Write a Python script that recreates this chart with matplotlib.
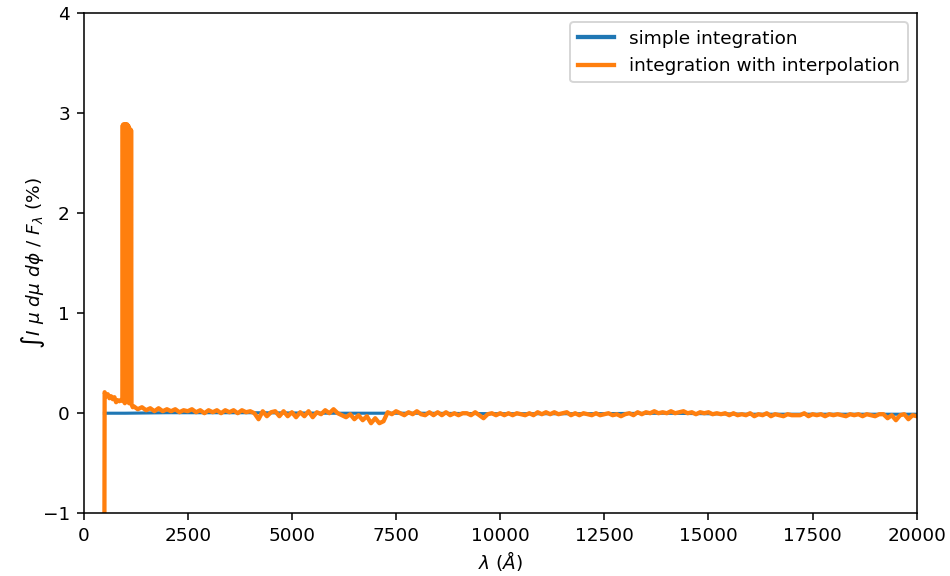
import matplotlib
matplotlib.use("Agg")
import matplotlib.pyplot as plt

plt.rcParams["font.size"] = 9.5

# simple integration (stays near zero)
wl_simple = [500, 1000, 2000, 4000, 6000, 8000, 10000, 12000, 14000, 16000, 18000, 20000]
frac_simple = [0.0, 0.0, 0.005, 0.005, 0.0, 0.0, -0.005, -0.005, 0.0, -0.01, -0.01, -0.01]

# integration with interpolation: blue edge + spike region
wl_start = [500, 505, 540, 580, 620, 660, 700, 740, 780, 820, 860, 900, 930]
frac_start = [-1.0, 0.21, 0.17, 0.19, 0.15, 0.17, 0.14, 0.16, 0.11, 0.13, 0.12, 0.13, 0.15]

wl_spike = [940, 950, 960, 970, 980, 990, 1000, 1010, 1020, 1030, 1040,
            1050, 1060, 1070, 1080, 1090, 1100, 1110, 1120, 1130, 1140, 1150,
            1160, 1180]
frac_spike = [2.88, 0.12, 2.89, 0.18, 2.88, 0.10, 2.89, 0.20, 2.88, 0.14, 2.89,
              0.12, 2.88, 0.18, 2.87, 0.10, 2.83, 0.15, 2.84, 0.10, 2.83, 0.09,
              0.08, 0.06]

# rest of the spectrum, sampled every 100 A from 1200 to 20000
wl_rest = list(range(1200, 20001, 100))
frac_rest = [
    0.07, 0.04, 0.06, 0.03, 0.05, 0.02, 0.05, 0.02, 0.04, 0.02,
    0.04, 0.01, 0.03, 0.02, 0.04, 0.01, 0.03, 0.00, 0.03, 0.01,
    0.03, 0.00, 0.03, 0.01, 0.03, 0.00, 0.03, 0.01, 0.02, 0.00,
    -0.06, 0.02, -0.03, 0.01, 0.02, -0.03, 0.02, -0.03, 0.01, -0.04,
    0.01, -0.03, 0.02, -0.04, 0.01, -0.01, 0.03, 0.00, 0.04, 0.00,
    -0.02, -0.04, -0.01, -0.06, -0.02, -0.07, -0.03, -0.10, -0.05, -0.10,
    -0.08, 0.01, -0.01, 0.02, 0.00, -0.02, 0.01, -0.01, 0.02, -0.01,
    -0.02, 0.01, -0.02, 0.01, -0.02, 0.01, -0.02, 0.00, -0.02, 0.00,
    0.00, -0.02, 0.01, -0.02, -0.05, -0.01, 0.00, -0.02, 0.00, -0.02,
    0.00, -0.02, 0.00, -0.01, -0.02, 0.00, -0.02, 0.01, -0.01, 0.01,
    -0.01, 0.01, -0.01, 0.00, 0.01, -0.02, 0.00, -0.02, 0.00, -0.01,
    -0.02, 0.00, -0.02, -0.01, 0.00, -0.02, -0.01, -0.03, -0.01, 0.00,
    -0.02, 0.01, -0.01, 0.01, 0.00, 0.02, 0.00, 0.01, 0.00, 0.02,
    0.00, 0.01, 0.02, 0.00, 0.01, -0.01, 0.01, 0.00, 0.01, -0.01,
    0.00, -0.01, 0.00, -0.02, 0.00, -0.02, -0.01, -0.02, 0.00, -0.03,
    -0.01, -0.02, 0.00, -0.03, -0.01, -0.02, -0.03, -0.01, -0.02, -0.02,
    -0.02, 0.00, -0.03, -0.01, -0.02, -0.01, -0.03, -0.01, -0.02, -0.01,
    -0.02, -0.03, -0.01, -0.02, -0.01, -0.03, -0.01, -0.02, -0.03, -0.01,
    -0.01, -0.05, -0.02, -0.07, -0.02, -0.01, -0.06, -0.02, -0.03,
]

wl_interp = wl_start + wl_spike + wl_rest
frac_interp = frac_start + frac_spike + frac_rest

fig = plt.figure(figsize=(950 / 140, 576 / 140), dpi=140)
ax = fig.add_axes([0.088, 0.109, 0.877, 0.868])
ax.plot(wl_simple, frac_simple, color="#1f77b4", lw=1.6, label="simple integration")
ax.plot(wl_interp, frac_interp, color="#ff7f0e", lw=2.2, label="integration with interpolation")
ax.set_xlim(0, 20000)
ax.set_ylim(-1, 4)
ax.set_xticks(range(0, 20001, 2500))
ax.set_yticks(range(-1, 5))
ax.set_xlabel(r"$\lambda\ (\AA)$", labelpad=2)
ax.set_ylabel(r"$\int I\ \mu\ d\mu\ d\phi\ /\ F_\lambda$ (%)", labelpad=-2)
leg = ax.legend(loc="upper right")
for line in leg.get_lines():
    line.set_linewidth(2.2)
fig.savefig("out.png", dpi=140)
